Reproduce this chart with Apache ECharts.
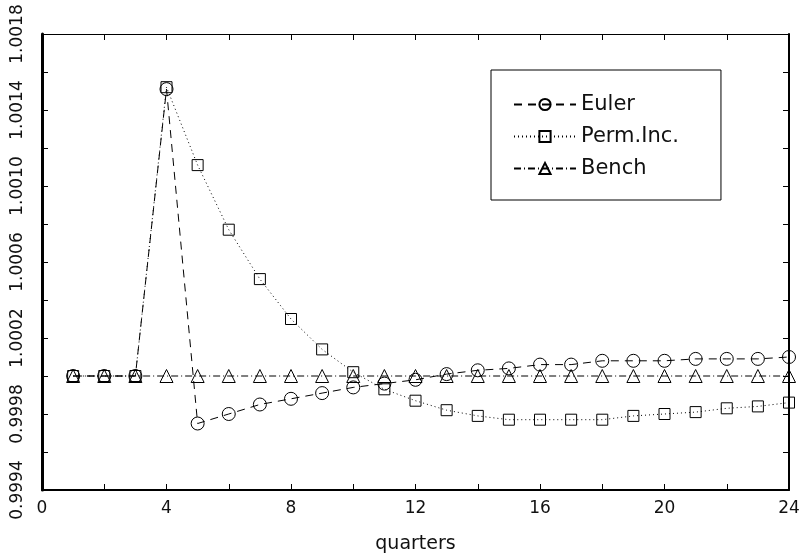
<!DOCTYPE html>
<html>
<head>
<meta charset="utf-8">
<script src="https://cdn.jsdelivr.net/npm/echarts@6/dist/echarts.min.js"></script>
<style>html,body{margin:0;padding:0;background:#fff;}#c{width:801px;height:553px;}</style>
</head>
<body>
<div id="c"></div>
<script>
const quarters = [1,2,3,4,5,6,7,8,9,10,11,12,13,14,15,16,17,18,19,20,21,22,23,24];
const euler = [1.0000,1.0000,1.0000,1.00151,0.99975,0.99980,0.99985,0.99988,0.99991,0.99994,0.99996,0.99998,1.00001,1.00003,1.00004,1.00006,1.00006,1.00008,1.00008,1.00008,1.00009,1.00009,1.00009,1.00010];
const permInc = [1.0000,1.0000,1.0000,1.00152,1.00111,1.00077,1.00051,1.00030,1.00014,1.00002,0.99993,0.99987,0.99982,0.99979,0.99977,0.99977,0.99977,0.99977,0.99979,0.99980,0.99981,0.99983,0.99984,0.99986];
const bench = [1.0000,1.0000,1.0000,1.0000,1.0000,1.0000,1.0000,1.0000,1.0000,1.0000,1.0000,1.0000,1.0000,1.0000,1.0000,1.0000,1.0000,1.0000,1.0000,1.0000,1.0000,1.0000,1.0000,1.0000];
const seriesNames = ['Euler','Perm.Inc.','Bench'];
const xLabelTicks = [0,4,8,12,16,20,24];
const yLabelTicks = ['0.9994','0.9998','1.0002','1.0006','1.0010','1.0014','1.0018'];

const FONT = 'DejaVu Sans';
const pairs = arr => quarters.map((q,i)=>[q,arr[i]]);
const common = {
  type:'line', xAxisIndex:0, yAxisIndex:0,
  itemStyle:{color:'rgba(255,255,255,0)', borderColor:'#000', borderWidth:1},
  lineStyle:{color:'#000', width:1},
  symbolKeepAspect:true
};
const chart = echarts.init(document.getElementById('c'), null, {renderer:'canvas'});
chart.setOption({
  animation:false,
  backgroundColor:'#fff',
  grid:{left:42, right:12, top:34, bottom:63, containLabel:false, outerBoundsMode:'none'},
  legend:{
    orient:'vertical', left:491, top:70,
    padding:[24,42,21,22], itemGap:11, itemWidth:62, itemHeight:14,
    borderColor:'#000', borderWidth:1,
    textStyle:{fontFamily:FONT, fontSize:21, color:'#111'},
    data:seriesNames
  },
  xAxis:[{
    type:'value', min:0, max:24, interval:2, position:'bottom',
    name:'quarters', nameLocation:'middle', nameGap:45,
    nameTextStyle:{fontFamily:FONT, fontSize:19, color:'#111'},
    axisLine:{show:true, onZero:false, lineStyle:{color:'#000', width:2}},
    axisTick:{show:true, inside:true, length:6, lineStyle:{color:'#000'}},
    axisLabel:{fontFamily:FONT, fontSize:17, color:'#111', margin:10,
      formatter:v=> xLabelTicks.indexOf(Math.round(v))>=0 && Math.abs(v-Math.round(v))<1e-6 ? String(Math.round(v)) : ''},
    splitLine:{show:false}
  },{
    type:'value', min:0, max:24, interval:2, position:'top',
    axisLine:{show:true, onZero:false, lineStyle:{color:'#000', width:1}},
    axisTick:{show:true, inside:true, length:6, lineStyle:{color:'#000'}},
    axisLabel:{show:false}, splitLine:{show:false}
  }],
  yAxis:[{
    type:'value', min:0.9994, max:1.0018, interval:0.0002, position:'left',
    axisLine:{show:true, onZero:false, lineStyle:{color:'#000', width:3}},
    axisTick:{show:true, inside:true, length:6, lineStyle:{color:'#000'}},
    axisLabel:{fontFamily:FONT, fontSize:17, color:'#111', rotate:90, margin:16,
      formatter:v=>{const s=v.toFixed(4); return yLabelTicks.indexOf(s)>=0 ? s : '';}},
    splitLine:{show:false}
  },{
    type:'value', min:0.9994, max:1.0018, interval:0.0002, position:'right',
    axisLine:{show:true, onZero:false, lineStyle:{color:'#000', width:2}},
    axisTick:{show:true, inside:true, length:6, lineStyle:{color:'#000'}},
    axisLabel:{show:false}, splitLine:{show:false}
  }],
  series:[
    Object.assign({}, common, {name:seriesNames[2], data:pairs(bench), symbol:'triangle', symbolSize:13,
      lineStyle:{color:'#000', width:1, type:[7,3,1,3]}}),
    Object.assign({}, common, {name:seriesNames[1], data:pairs(permInc), symbol:'rect', symbolSize:11,
      lineStyle:{color:'#000', width:1, type:[1,3]}}),
    Object.assign({}, common, {name:seriesNames[0], data:pairs(euler), symbol:'circle', symbolSize:13,
      lineStyle:{color:'#000', width:1, type:[8,6]}})
  ]
});
</script>
</body>
</html>
